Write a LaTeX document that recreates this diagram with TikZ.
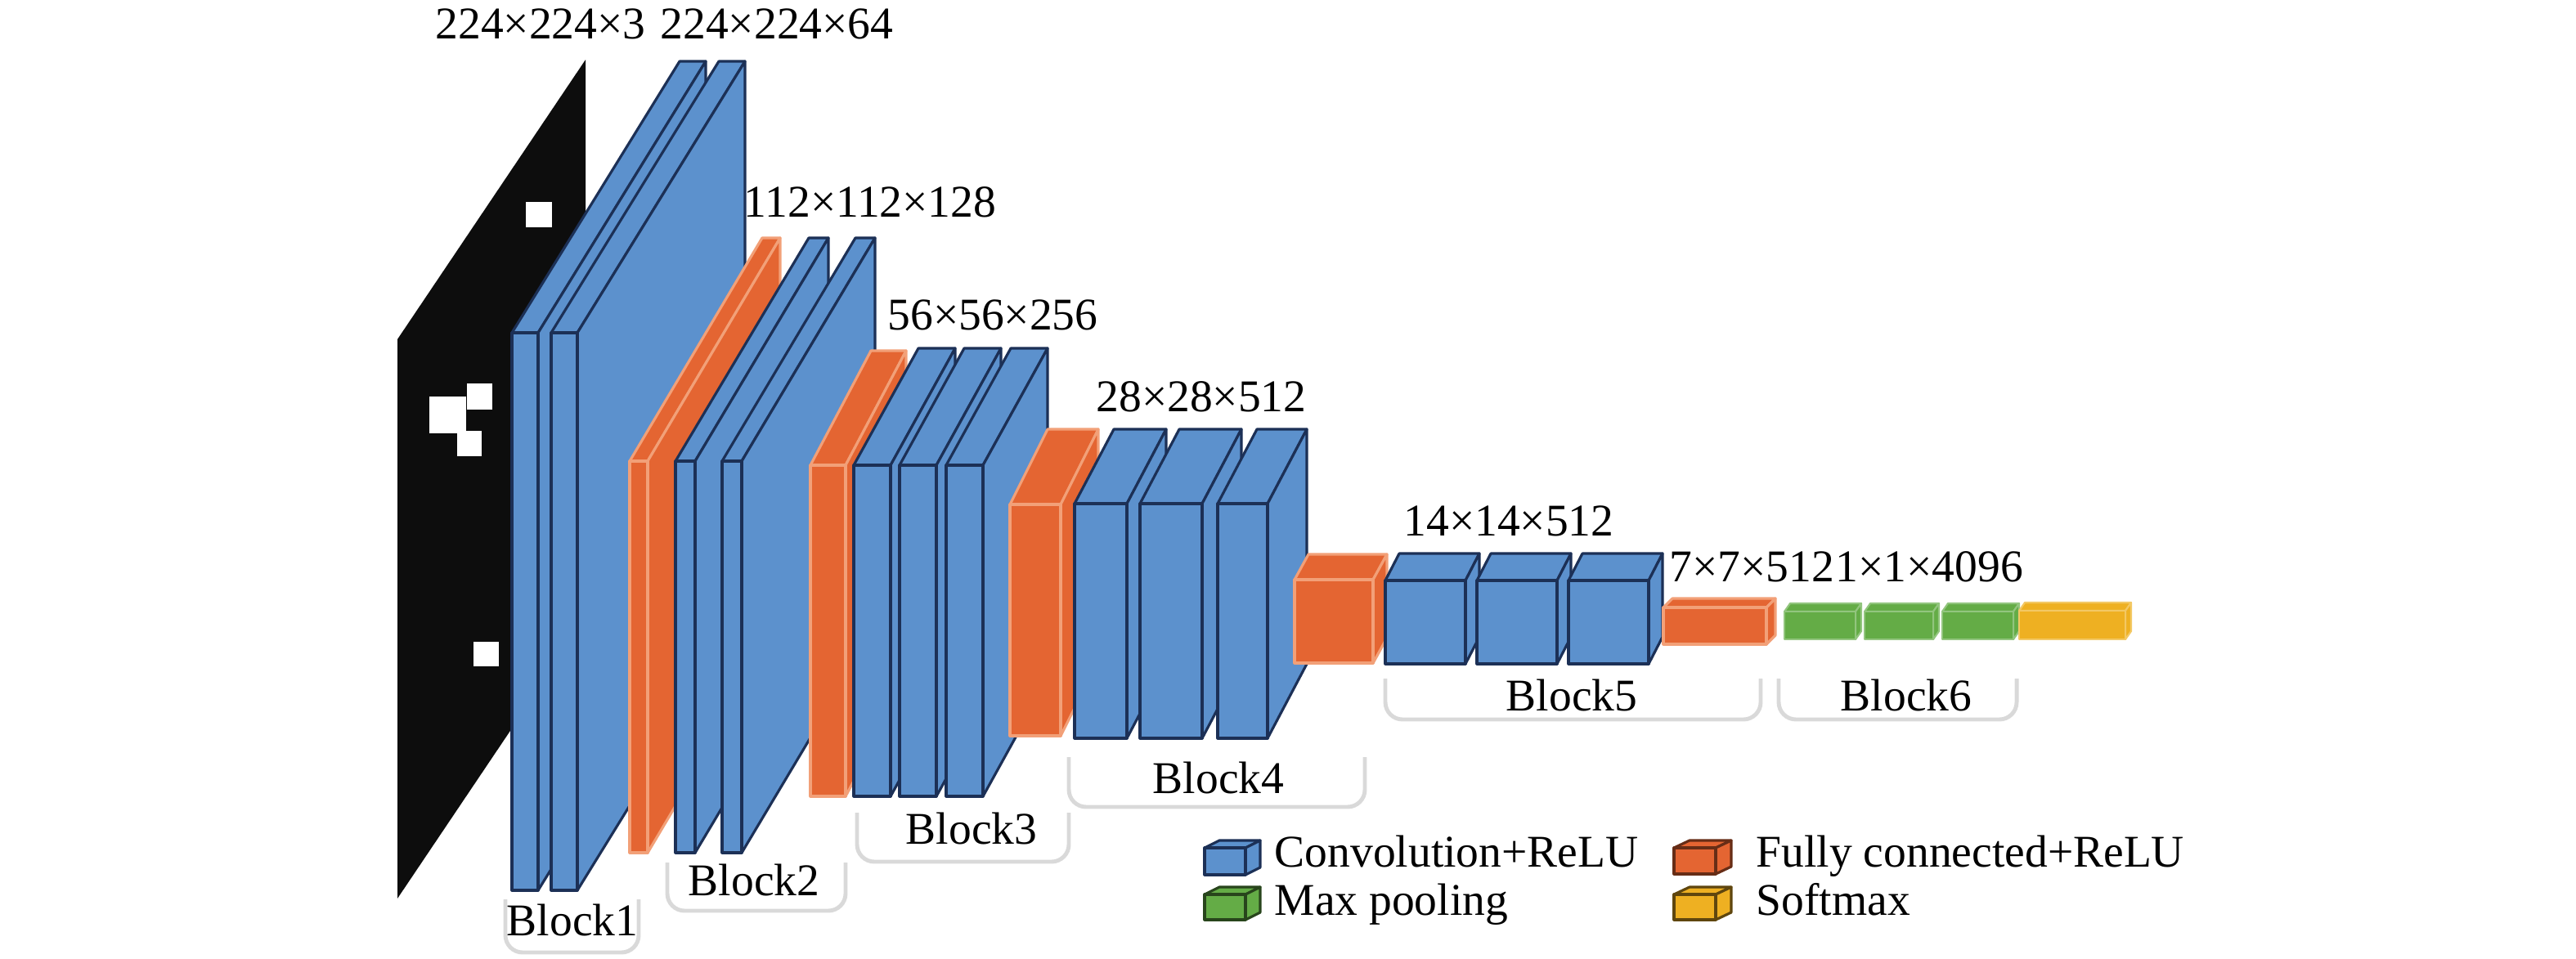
\documentclass[tikz,border=0pt]{standalone}
\usepackage{fontspec}
\setmainfont{Liberation Serif}
\usetikzlibrary{positioning}

\definecolor{convblue}{RGB}{92,145,205}
\definecolor{convedge}{RGB}{28,48,86}
\definecolor{fcorange}{RGB}{228,101,50}
\definecolor{fcedge}{RGB}{242,160,120}
\definecolor{poolgreen}{RGB}{100,172,70}
\definecolor{softyellow}{RGB}{238,176,34}

\tikzset{conv/.style={fill=convblue,draw=convedge,line width=0.9pt,line join=round}}
\tikzset{fc/.style={fill=fcorange,draw=fcedge,line width=0.9pt,line join=round}}
\tikzset{pool/.style={fill=poolgreen,draw=poolgreen!70!white,line width=0.6pt,line join=round}}
\tikzset{soft/.style={fill=softyellow,draw=softyellow!70!white,line width=0.6pt,line join=round}}
\tikzset{fcicon/.style={fc,draw=fcorange!45!black}}
\tikzset{poolicon/.style={pool,draw=poolgreen!40!black,line width=0.9pt}}
\tikzset{softicon/.style={soft,draw=softyellow!40!black,line width=0.9pt}}
\tikzset{dim/.style={inner sep=0pt,font=\fontsize{15.8}{18}\selectfont}}
\tikzset{brace/.style={draw=black!15,line width=1.4pt,rounded corners=6pt}}

% one layer: front face, top face and right face
% #2,#3 front top left, #4 width, #5 height, #6,#7 depth
\newcommand{\layerbox}[7][conv]{%
  \filldraw[#1] (#2,#3) -- ++(#6,#7) -- ++(#4,0) -- ++({-(#6)},{-(#7)}) -- cycle;
  \filldraw[#1] ({#2+#4},#3) -- ++(#6,#7) -- ++(0,#5) -- ++({-(#6)},{-(#7)}) -- cycle;
  \filldraw[#1] (#2,#3) rectangle ++(#4,#5);
}

\begin{document}
\begin{tikzpicture}[x=1cm,y=-1cm]
        \useasboundingbox (0,0) rectangle (31.5,11.72);
        % input image
        \fill[black!95] (4.86,4.15) -- (7.16,0.73) -- (7.16,7.57) -- (4.86,10.99) -- cycle;
        \fill[white] (6.43,2.47) rectangle (6.75,2.78);
        \fill[white] (5.25,4.85) rectangle (5.70,5.30);
        \fill[white] (5.71,4.69) rectangle (6.02,5.01);
        \fill[white] (5.59,5.27) rectangle (5.89,5.58);
        \fill[white] (5.79,7.85) rectangle (6.10,8.15);

        % Block1
        \foreach \x in {6.26,6.74} {\layerbox{\x}{4.07}{0.32}{6.82}{2.05}{-3.32}}
        % Block2
        \layerbox[fc]{7.70}{5.64}{0.22}{4.79}{1.62}{-2.73}
        \foreach \x in {8.26,8.83} {\layerbox{\x}{5.64}{0.24}{4.79}{1.63}{-2.73}}
        % Block3
        \layerbox[fc]{9.91}{5.69}{0.43}{4.05}{0.74}{-1.40}
        \foreach \x in {10.44,11.00,11.57} {\layerbox{\x}{5.69}{0.45}{4.05}{0.79}{-1.43}}
        % Block4
        \layerbox[fc]{12.35}{6.17}{0.62}{2.83}{0.46}{-0.92}
        \layerbox{13.14}{6.16}{0.64}{2.87}{0.48}{-0.91}
        \layerbox{13.94}{6.16}{0.76}{2.87}{0.48}{-0.91}
        \layerbox{14.89}{6.16}{0.61}{2.87}{0.48}{-0.91}
        % Block5
        \layerbox[fc]{15.83}{7.09}{0.96}{1.02}{0.17}{-0.31}
        \foreach \x in {16.94,18.06,19.18} {\layerbox{\x}{7.10}{0.98}{1.02}{0.17}{-0.33}}
        % Block6
        \layerbox[fc]{20.34}{7.43}{1.26}{0.45}{0.11}{-0.11}
        \layerbox[pool]{21.82}{7.48}{0.87}{0.34}{0.07}{-0.10}
        \layerbox[pool]{22.80}{7.48}{0.84}{0.34}{0.07}{-0.10}
        \layerbox[pool]{23.75}{7.48}{0.87}{0.34}{0.07}{-0.10}
        \layerbox[soft]{24.69}{7.47}{1.30}{0.35}{0.07}{-0.10}

        % sizes
        \node[dim] (dim1) at (6.61,0.29) {224×224×3};
        \node[dim] (dim2) at (9.50,0.29) {224×224×64};
        \node[dim] (dim3) at (10.64,2.47) {112×112×128};
        \node[dim] (dim4) at (12.14,3.85) {56×56×256};
        \node[dim] (dim5) at (14.69,4.85) {28×28×512};
        \node[dim] (dim6) at (18.45,6.37) {14×14×512};
        \node[dim,anchor=west] (dim7) at (20.41,6.93) {7×7×512};
        \node[dim,right=0pt of dim7] (dim8) {1×1×4096};

        % blocks
        \draw[brace] (6.18,11.00) -- (6.18,11.65) -- (7.81,11.65) -- (7.81,11.00);
        \node[dim] (blk1) at (7.00,11.25) {Block1};
        \draw[brace] (8.16,10.55) -- (8.16,11.14) -- (10.34,11.14) -- (10.34,10.55);
        \node[dim] (blk2) at (9.22,10.76) {Block2};
        \draw[brace] (10.48,9.94) -- (10.48,10.54) -- (13.07,10.54) -- (13.07,9.94);
        \node[dim] (blk3) at (11.88,10.13) {Block3};
        \draw[brace] (13.07,9.26) -- (13.07,9.87) -- (16.69,9.87) -- (16.69,9.26);
        \node[dim] (blk4) at (14.90,9.51) {Block4};
        \draw[brace] (16.94,8.30) -- (16.94,8.80) -- (21.53,8.80) -- (21.53,8.30);
        \node[dim] (blk5) at (19.22,8.50) {Block5};
        \draw[brace] (21.75,8.30) -- (21.75,8.80) -- (24.66,8.80) -- (24.66,8.30);
        \node[dim] (blk6) at (23.31,8.50) {Block6};

        % legend
        \layerbox{14.73}{10.37}{0.50}{0.33}{0.18}{-0.09}
        \node[dim,anchor=base west] (leg1) at (15.58,10.60) {Convolution+ReLU};
        \layerbox[fcicon]{20.47}{10.37}{0.51}{0.32}{0.19}{-0.09}
        \node[dim,anchor=base west] (leg2) at (21.47,10.60) {Fully connected+ReLU};
        \layerbox[poolicon]{14.73}{10.94}{0.50}{0.31}{0.18}{-0.09}
        \node[dim,anchor=base west] (leg3) at (15.58,11.19) {Max pooling};
        \layerbox[softicon]{20.47}{10.94}{0.51}{0.31}{0.19}{-0.09}
        \node[dim,anchor=base west] (leg4) at (21.47,11.19) {Softmax};
    \end{tikzpicture}
\end{document}
